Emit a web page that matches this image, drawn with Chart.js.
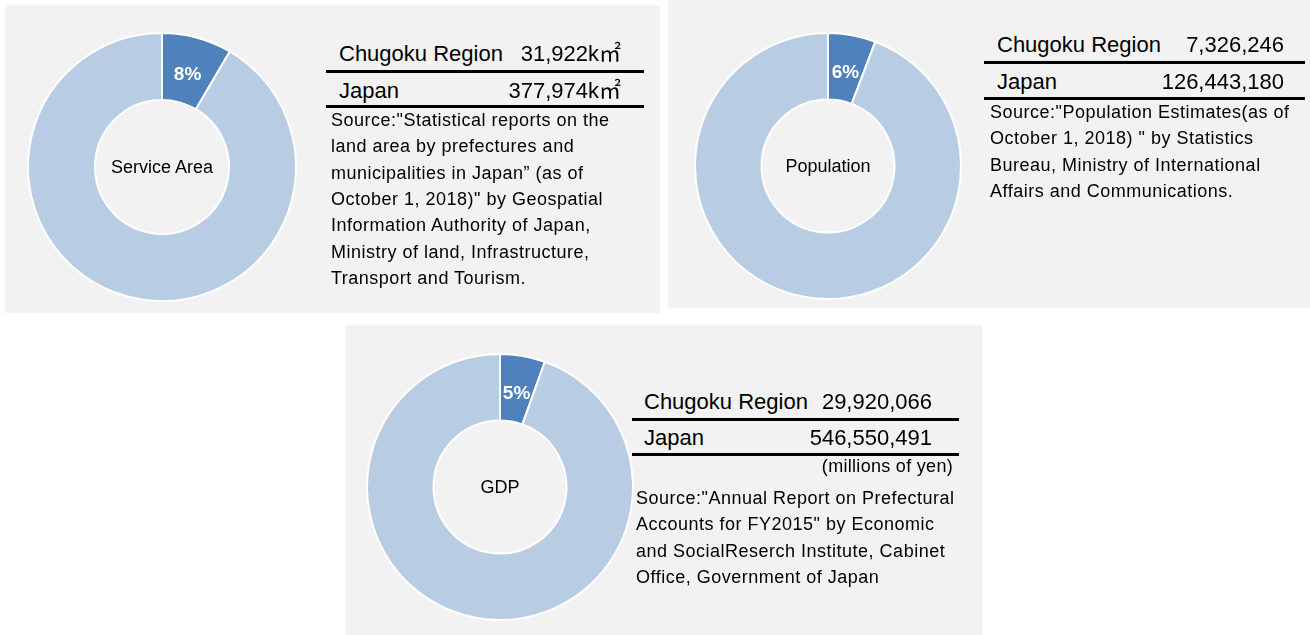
<!DOCTYPE html>
<html>
<head>
<meta charset="utf-8">
<script src="https://cdn.jsdelivr.net/npm/chart.js@4"></script>
<style>
  body { margin: 0; background: #fff; width: 1310px; height: 635px; position: relative; overflow: hidden;
         font-family: "Liberation Sans", Arial, "Noto Sans CJK JP", sans-serif; color: #000; }
  .panel { position: absolute; background: #f2f2f2; }
  .t { position: absolute; white-space: nowrap; }
  .rule { position: absolute; height: 3px; background: #000; }
  canvas { position: absolute; }
</style>
</head>
<body>
<script>
// data
const panelTitles = ["Service Area", "Population", "GDP"];
const regionValues = [31922, 7326246, 29920066];
const japanValues = [377974, 126443180, 546550491];
const units = ["k㎡", "", ""];
const rowLabels = ["Chugoku Region", "Japan"];
const notes = ["", "", "(millions of yen)"];
const sources = [
  ["Source:\"Statistical reports on the", "land area by prefectures and", "municipalities in Japan\u201d (as of",
   "October 1, 2018)\" by Geospatial", "Information Authority of Japan,", "Ministry of land, Infrastructure,",
   "Transport and Tourism."],
  ["Source:\"Population Estimates(as of", "October 1, 2018) \" by Statistics", "Bureau, Ministry of International",
   "Affairs and Communications."],
  ["Source:\"Annual Report on Prefectural", "Accounts for FY2015\" by Economic", "and SocialReserch Institute, Cabinet",
   "Office, Government of Japan"]
];

const darkBlue = "#4f81bd";
const lightBlue = "#b8cce4";

// layout of the three boxes
const layout = [
  { box: [5, 5, 655, 308], cx: 162, cy: 167, r: 134, tableX: 326, tableW: 318, labelX: 339, valueR: 621,
    row1: 54, line1: 71, row2: 91, line2: 106, note: 0, src: 120, srcX: 331 },
  { box: [668, 0, 642, 308], cx: 828, cy: 166, r: 133, tableX: 984, tableW: 321, labelX: 997, valueR: 1284,
    row1: 45, line1: 62, row2: 82, line2: 98, note: 0, src: 112, srcX: 990 },
  { box: [345, 325, 637, 310], cx: 500, cy: 487, r: 133, tableX: 632, tableW: 327, labelX: 644, valueR: 932,
    row1: 402, line1: 419, row2: 438, line2: 454, note: 466, src: 498, srcX: 636 }
];

function addText(str, x, y, size, align, spacing) {
  const d = document.createElement("div");
  d.className = "t";
  d.textContent = str;
  d.style.fontSize = size + "px";
  d.style.lineHeight = "30px";
  d.style.top = (y - 15) + "px";
  if (spacing) d.style.letterSpacing = spacing + "px";
  if (align === "right") {
    d.style.left = (x - 400) + "px";
    d.style.width = "400px";
    d.style.textAlign = "right";
  } else if (align === "center") {
    d.style.left = (x - 200) + "px";
    d.style.width = "400px";
    d.style.textAlign = "center";
  } else {
    d.style.left = x + "px";
  }
  document.body.appendChild(d);
}

function addRule(x, y, w) {
  const d = document.createElement("div");
  d.className = "rule";
  d.style.left = x + "px";
  d.style.top = (y - 1) + "px";
  d.style.width = w + "px";
  document.body.appendChild(d);
}

// white % label in the Chugoku slice
const pctLabel = {
  id: "pctLabel",
  afterDatasetsDraw(chart) {
    const ctx = chart.ctx;
    const arc = chart.getDatasetMeta(0).data[0];
    const { x, y, startAngle, endAngle, innerRadius, outerRadius } = arc.getProps(
      ["x", "y", "startAngle", "endAngle", "innerRadius", "outerRadius"], true);
    const mid = (startAngle + endAngle) / 2;
    const rr = (innerRadius + outerRadius) / 2 - 3;
    const ds = chart.data.datasets[0].data;
    const pct = Math.round(ds[0] / (ds[0] + ds[1]) * 100) + "%";
    ctx.save();
    ctx.fillStyle = "#fff";
    ctx.font = "bold 19px 'Liberation Sans', Arial, sans-serif";
    ctx.textAlign = "center";
    ctx.textBaseline = "middle";
    ctx.fillText(pct, x + Math.cos(mid) * rr, y + Math.sin(mid) * rr + 2);
    ctx.restore();
  }
};

layout.forEach((L, i) => {
  const panel = document.createElement("div");
  panel.className = "panel";
  panel.style.left = L.box[0] + "px";
  panel.style.top = L.box[1] + "px";
  panel.style.width = L.box[2] + "px";
  panel.style.height = L.box[3] + "px";
  document.body.appendChild(panel);

  const size = 2 * L.r + 2;
  const canvas = document.createElement("canvas");
  canvas.style.left = (L.cx - size / 2) + "px";
  canvas.style.top = (L.cy - size / 2) + "px";
  canvas.style.width = size + "px";
  canvas.style.height = size + "px";
  canvas.width = size;
  canvas.height = size;
  document.body.appendChild(canvas);

  new Chart(canvas.getContext("2d"), {
    type: "doughnut",
    data: {
      labels: rowLabels,
      datasets: [{
        data: [regionValues[i], japanValues[i] - regionValues[i]],
        backgroundColor: [darkBlue, lightBlue],
        borderColor: "#ffffff",
        borderWidth: 2
      }]
    },
    options: {
      responsive: false,
      animation: false,
      cutout: "50%",
      layout: { padding: 0 },
      plugins: { legend: { display: false }, tooltip: { enabled: false } }
    },
    plugins: [pctLabel]
  });

  addText(panelTitles[i], L.cx, L.cy, 18, "center");

  addText(rowLabels[0], L.labelX, L.row1, 22);
  addText(regionValues[i].toLocaleString("en-US") + units[i], L.valueR, L.row1, 22, "right");
  addRule(L.tableX, L.line1, L.tableW);
  addText(rowLabels[1], L.labelX, L.row2, 22);
  addText(japanValues[i].toLocaleString("en-US") + units[i], L.valueR, L.row2, 22, "right");
  addRule(L.tableX, L.line2, L.tableW);
  if (notes[i]) addText(notes[i], L.tableX + L.tableW - 6, L.note, 18, "right", 0.3);

  sources[i].forEach((line, k) => {
    addText(line, L.srcX, L.src + k * 26.3, 18, null, 0.5);
  });
});
</script>
</body>
</html>
